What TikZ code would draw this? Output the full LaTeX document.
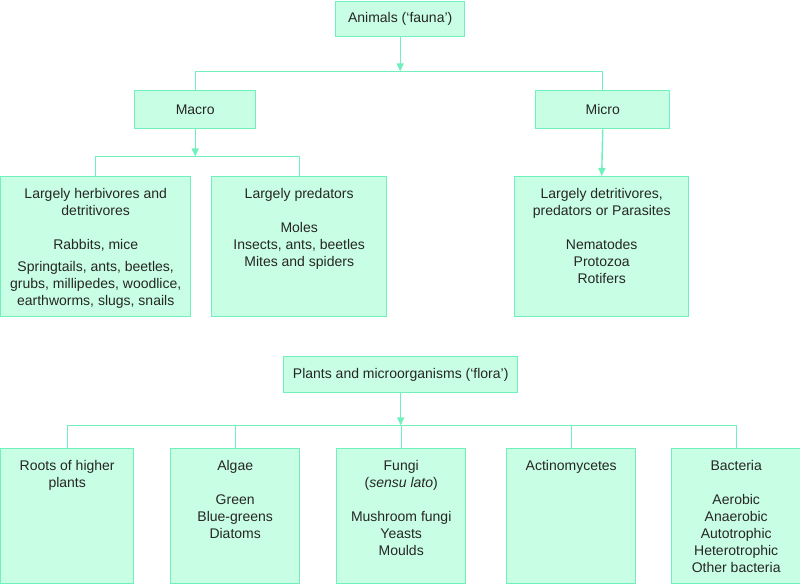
\documentclass[tikz,border=0pt]{standalone}
\usepackage{fontspec}
\setmainfont{Liberation Sans}
\usetikzlibrary{arrows.meta}
\definecolor{boxfill}{RGB}{200,254,228}
\definecolor{boxline}{RGB}{112,240,188}
\begin{document}
\begin{tikzpicture}[x=1pt,y=-1pt,
  box/.style={draw=boxline, fill=boxfill, line width=1.4pt, inner sep=0pt, anchor=north west,
    font=\fontsize{14}{17}\selectfont, text=black!85},
  txt/.style={align=center, inner sep=0pt, font=\fontsize{14}{17}\selectfont, text=black!85, anchor=north},
  conn/.style={draw=boxline, line width=1.4pt},
  arr/.style={conn, -{Triangle[length=8pt,width=7pt]}}]
\useasboundingbox (0,0) rectangle (800,584);

% ---------- fauna ----------
\node[box, minimum width=129pt, minimum height=35pt] (animals) at (335,1) {Animals (‘fauna’)};
\node[box, minimum width=121pt, minimum height=38pt] (macro) at (134,90) {Macro};
\node[box, minimum width=134pt, minimum height=38pt] (micro) at (535,90) {Micro};
\node[box, minimum width=190pt, minimum height=140pt] (herb) at (0,176) {};
\node[box, minimum width=175pt, minimum height=140pt] (pred) at (211,176) {};
\node[box, minimum width=174pt, minimum height=140pt] (mchild) at (514,176) {};

\node[txt] at ([yshift=-12pt]herb.north) {Largely herbivores and\\detritivores\\[17pt]Rabbits, mice\\[5pt]Springtails, ants, beetles,\\grubs, millipedes, woodlice,\\earthworms, slugs, snails};
\node[txt] at ([yshift=-12pt]pred.north) {Largely predators\\[17pt]Moles\\Insects, ants, beetles\\Mites and spiders};
\node[txt] at ([yshift=-12pt]mchild.north) {Largely detritivores,\\predators or Parasites\\[17pt]Nematodes\\Protozoa\\Rotifers};

\draw[arr] (animals.south) -- ++(0,34) coordinate (j1);
\draw[conn] (macro.north) |- (j1) -| (micro.north);
\draw[arr] (macro.south) -- ++(0,27) coordinate (j2);
\draw[conn] (herb.north) |- (j2) -| (pred.north);
\draw[arr] (micro.south) -- (mchild.north);

% ---------- flora ----------
\node[box, minimum width=234pt, minimum height=36pt] (flora) at (283,356) {Plants and microorganisms (‘flora’)};
\node[box, minimum width=133pt, minimum height=135pt] (roots) at (0,448) {};
\node[box, minimum width=129pt, minimum height=135pt] (algae) at (170,448) {};
\node[box, minimum width=129pt, minimum height=135pt] (fungi) at (336,448) {};
\node[box, minimum width=129pt, minimum height=135pt] (actino) at (506,448) {};
\node[box, minimum width=129pt, minimum height=135pt] (bact) at (671,448) {};

\node[txt] at ([yshift=-12pt]roots.north) {Roots of higher\\plants};
\node[txt] at ([yshift=-12pt]algae.north) {Algae\\[17pt]Green\\Blue-greens\\Diatoms};
\node[txt] at ([yshift=-12pt]fungi.north) {Fungi\\(\textit{sensu lato})\\[17pt]Mushroom fungi\\Yeasts\\Moulds};
\node[txt] at ([yshift=-12pt]actino.north) {Actinomycetes};
\node[txt] at ([yshift=-12pt]bact.north) {Bacteria\\[17pt]Aerobic\\Anaerobic\\Autotrophic\\Heterotrophic\\Other bacteria};

\coordinate (j3) at ([yshift=-32pt]flora.south);
\draw[conn] (roots.north) |- (j3) -| (bact.north);
\draw[conn] (algae.north) -- (algae.north |- j3);
\draw[conn] (fungi.north) -- (fungi.north |- j3);
\draw[conn] (actino.north) -- (actino.north |- j3);
\draw[arr] (flora.south) -- (j3);
\end{tikzpicture}
\end{document}
